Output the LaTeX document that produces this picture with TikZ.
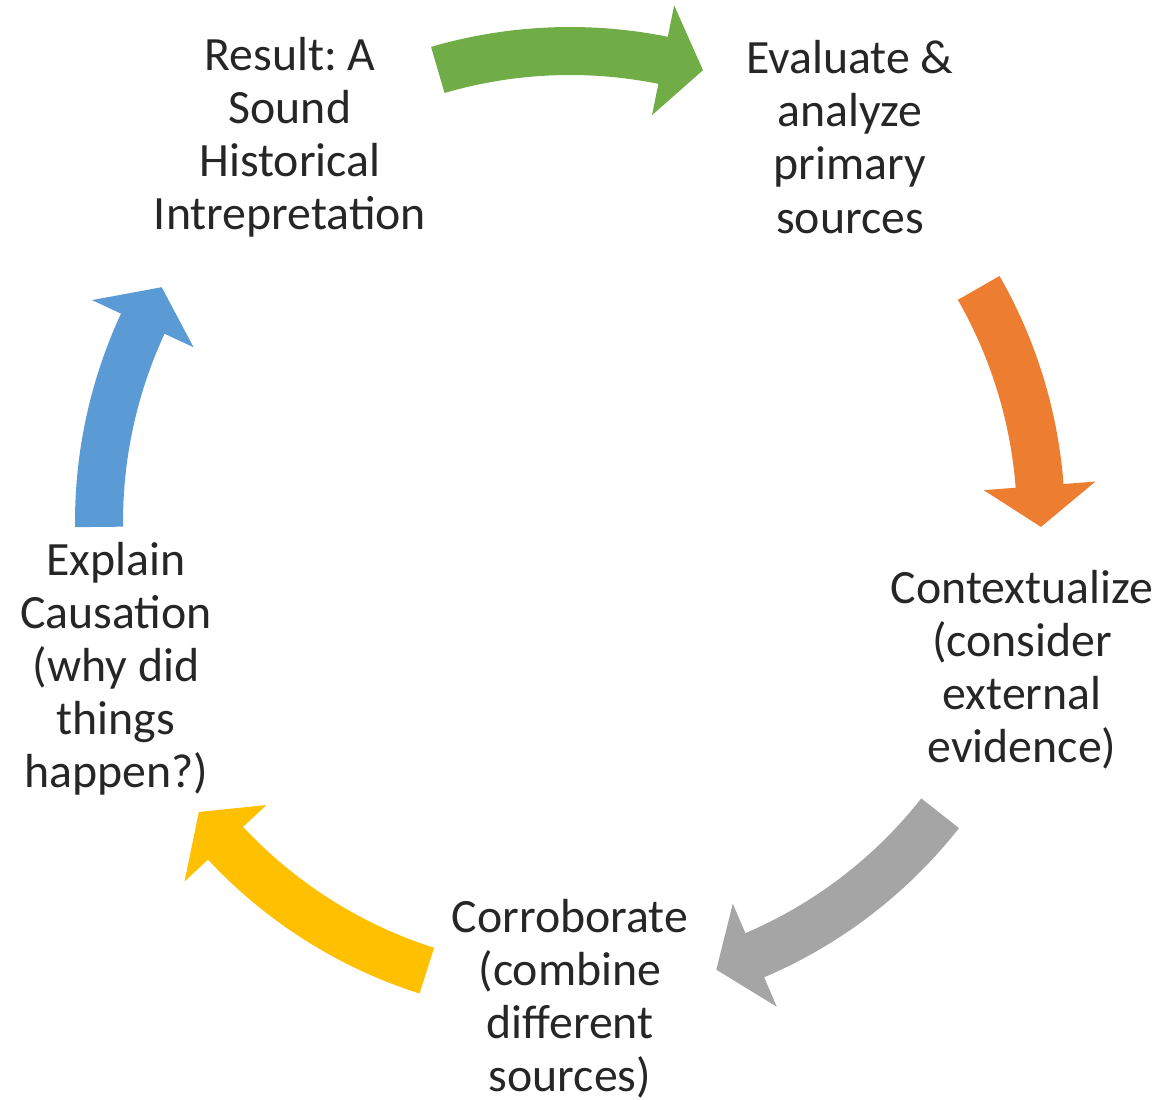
\documentclass[tikz,border=0pt]{standalone}
\usepackage{fontspec}
\setmainfont{Carlito}
\usetikzlibrary{positioning}

\definecolor{arrgreen}{HTML}{70AD47}
\definecolor{arrorange}{HTML}{ED7D31}
\definecolor{arrgray}{HTML}{A5A5A5}
\definecolor{arryellow}{HTML}{FFC000}
\definecolor{arrblue}{HTML}{5B9BD5}
\definecolor{txtgray}{HTML}{262626}

% #1 colour, #2 tail angle, #3 tip angle (clockwise)
\newcommand{\cyclearrow}[3]{%
  \fill[#1] (#2:4.95) arc[start angle=#2, end angle={#3+5}, radius=4.95]
    -- ({#3+5}:5.27) -- (#3:4.71) -- ({#3+5}:4.15) -- ({#3+5}:4.47)
    arc[start angle={#3+5}, end angle=#2, radius=4.47] -- cycle;}

\begin{document}
\frenchspacing
\begin{tikzpicture}[
  step text/.style={align=center, text=txtgray, inner sep=0pt,
    font=\fontsize{13.6}{15.1}\selectfont}]
\useasboundingbox (-5.70,-5.78) rectangle (5.90,5.22);

\node[step text] (result) at (-2.80,3.85) {Result: A\\Sound\\Historical\\Intrepretation};
\node[step text] (evaluate) at (2.80,3.85) {Evaluate \&\\analyze\\primary\\sources};
\node[step text] (context) at (4.52,-1.48) {Contextualize\\(consider\\external\\evidence)};
\node[step text] (corrob) at (0,-4.77) {Corroborate\\(combine\\different\\sources)};
\node[step text] (explain) at (-4.54,-1.47) {Explain\\Causation\\(why did\\things\\happen?)};

\cyclearrow{arrgreen}{106.3}{73.6}
\cyclearrow{arrorange}{29.8}{-0.6}
\cyclearrow{arrgray}{-38.2}{-71.9}
\cyclearrow{arryellow}{-107.7}{-142}
\cyclearrow{arrblue}{180.6}{150.1}
\end{tikzpicture}
\end{document}
